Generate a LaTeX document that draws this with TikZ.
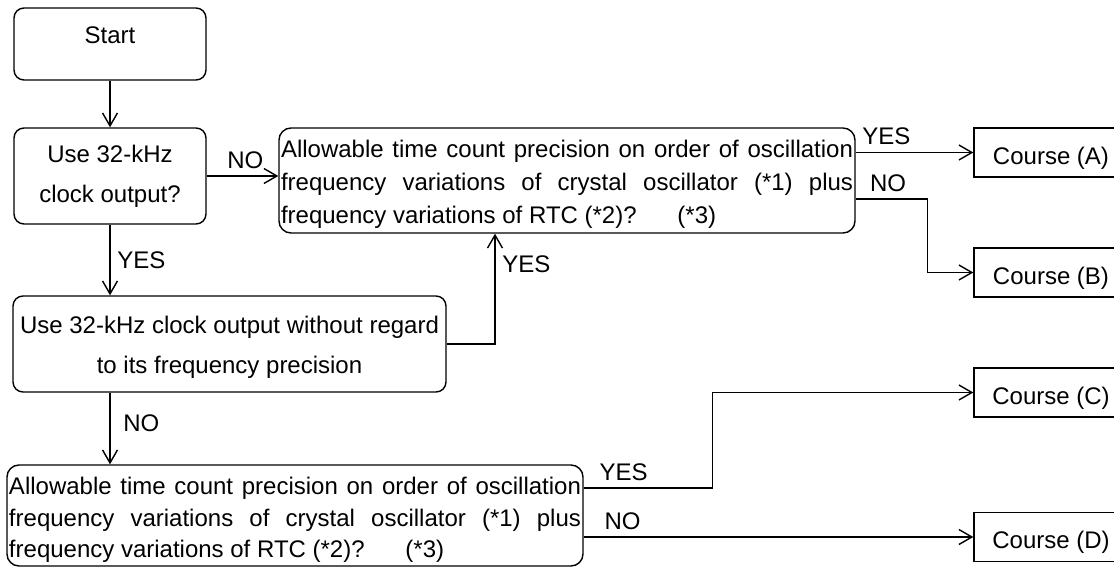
\documentclass[tikz,border=0pt]{standalone}
\usepackage{fontspec}
\setmainfont{Liberation Sans}
\usepackage{tikz}
\usetikzlibrary{arrows.meta}
% the question that is asked twice
\newcommand{\prectext}[2]{%
  \parbox{286pt}{\vspace*{#2}\baselineskip=#1
    \makebox[286pt][s]{Allowable time count precision on order of oscillation}\\
    \makebox[286pt][s]{frequency variations of crystal oscillator (*1) plus}\\
    frequency variations of RTC (*2)?\hspace{1.7em}(*3)}}

\begin{document}
\begin{tikzpicture}[x=0.5pt,y=-0.5pt,line width=0.7pt,>={Straight Barb[length=6.5pt,width=7.5pt]},
  font=\fontsize{12}{20}\selectfont,
  box/.style={draw,rounded corners=5pt,align=center,inner sep=1pt},
  course/.style={draw,minimum width=77pt,minimum height=24.5pt,inner sep=0pt,text height=11.6pt,text depth=0pt}]
\useasboundingbox (0,0) rectangle (1114,567);
% Boxes
\node [box,minimum width=96pt,minimum height=36pt,text height=9pt,text depth=9pt] (start) at (110,44) {Start};
\node [box,minimum width=96pt,minimum height=48pt] (clock) at (110,176) {Use 32-kHz\\clock output?};
\node [box,rounded corners=6pt,minimum width=288pt,minimum height=52.5pt] (prec) at (567,180.5) {\prectext{16.5pt}{3.5pt}};
\node [box,minimum width=216.5pt,minimum height=48pt] (noregard) at (229.5,344) {\rule{0pt}{12pt}Use 32-kHz clock output without regard\\to its frequency precision};
\node [box,rounded corners=6pt,minimum width=287pt,minimum height=50.5pt] (precb) at (295,515.5) {\prectext{15.75pt}{4.5pt}};
% Courses
\node [course] (courseA) at (1051,152.5) {Course (A)};
\node [course] (courseB) at (1051,272.5) {Course (B)};
\node [course] (courseC) at (1051,392.5) {Course (C)};
\node [course] (courseD) at (1051,537) {Course (D)};
% Arrows
\draw [->] (start) -- (clock);
\draw [->] (clock.east) -- (clock.east -| prec.west) node [pos=0.54,above] (noA) {NO};
\draw [->] (clock) -- (noregard.north -| clock) node [pos=0.5,right] (yesA) {YES};
\draw [->] (prec.east |- courseA) -- (courseA) node [pos=0.26,above] (yesB) {YES};
\draw [->] ([yshift=-9.25pt]prec.east) -- ++(72,0) node [pos=0.45,above] (noB) {NO} |- (courseB);
\draw [->] (noregard.east) -| ([xshift=-36pt]prec.south) node [pos=0.86,right] (yesC) {YES};
\draw [->] (clock |- noregard.south) -- (clock |- precb.north) node [pos=0.43,right,xshift=3pt] (noC) {NO};
\draw [->] ([yshift=13.75pt]precb.east) -- ++(129,0) node [pos=0.31,above] (yesD) {YES} |- (courseC);
\draw [->] (precb.east |- courseD) -- (courseD) node [pos=0.1,above] (noD) {NO};
\end{tikzpicture}
\end{document}
